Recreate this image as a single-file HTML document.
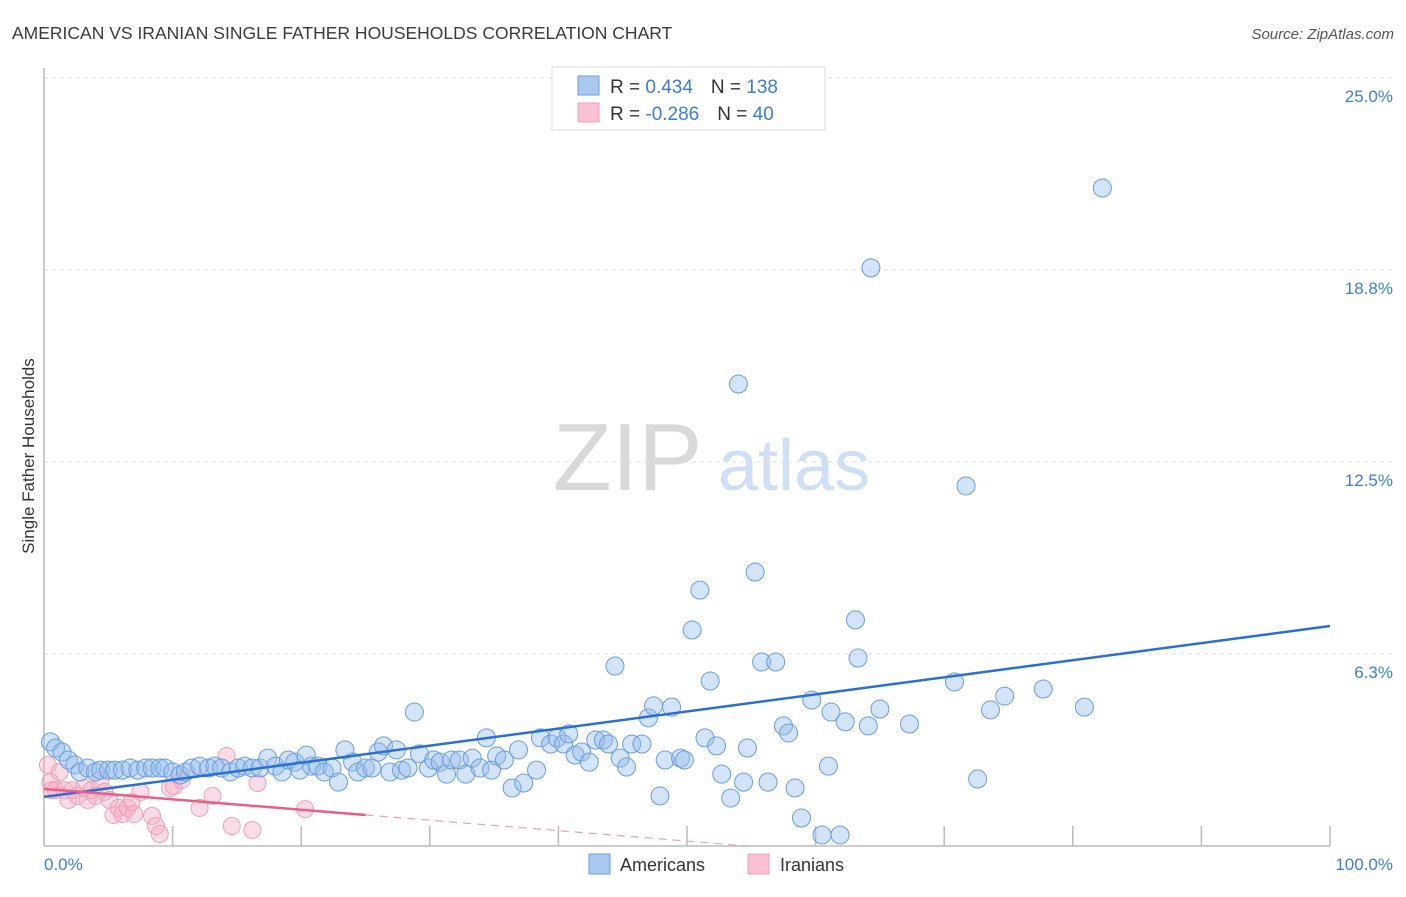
<!DOCTYPE html>
<html><head><meta charset="utf-8"><style>
body{margin:0;background:#fff;font-family:"Liberation Sans",sans-serif;}
svg text{font-family:"Liberation Sans",sans-serif;}
</style></head><body>
<svg id="chart" width="1406" height="892" viewBox="0 0 1406 892" xmlns="http://www.w3.org/2000/svg">
<text x="12" y="39" font-size="17.5" fill="#3a3a3a">AMERICAN VS IRANIAN SINGLE FATHER HOUSEHOLDS CORRELATION CHART</text>
<text x="1394" y="39" font-size="15" fill="#555" font-style="italic" text-anchor="end">Source: ZipAtlas.com</text>
<text x="553" y="490" font-size="96" fill="#d9d9d9" font-family="Liberation Serif,serif">ZIP</text>
<text x="718" y="490" font-size="72" fill="#cfe0f5">atlas</text>
<g id="grid"></g><g id="axes"></g>
<g id="pinkpts"></g><g id="bluepts"></g><g id="lines"></g>
<text transform="translate(34,456) rotate(-90)" font-size="17" fill="#333" text-anchor="middle">Single Father Households</text>
<text x="44" y="870" font-size="17" fill="#3b7dd8">0.0%</text>
<text x="1393" y="870" font-size="17" fill="#3b7dd8" text-anchor="end">100.0%</text>
<g>
<rect x="552" y="67" width="273" height="63" fill="#fff" stroke="#ddd"/>
<rect x="578" y="76" width="21" height="19" fill="#a9c9f0" stroke="#6a9ee0"/>
<rect x="578" y="103" width="21" height="19" fill="#f8c2d3" stroke="#eea0b8"/>
<text x="610" y="93" font-size="19" fill="#333">R = <tspan fill="#3b7dd8"> 0.434</tspan><tspan dx="18">N = </tspan><tspan fill="#3b7dd8">138</tspan></text>
<text x="610" y="120" font-size="19" fill="#333">R = <tspan fill="#3b7dd8">-0.286</tspan><tspan dx="18">N = </tspan><tspan fill="#3b7dd8"> 40</tspan></text>
</g>
<g>
<rect x="589" y="854" width="21" height="20" fill="#a9c9f0" stroke="#6a9ee0"/>
<text x="620" y="871" font-size="18" fill="#333">Americans</text>
<rect x="748" y="854" width="21" height="20" fill="#f8c2d3" stroke="#eea0b8"/>
<text x="780" y="871" font-size="18" fill="#333">Iranians</text>
</g>
</svg>
<script>
const yTicks=[6.25,12.5,18.75,25];
const yTickLabels=["6.3%","12.5%","18.8%","25.0%"];
const xTicks=[10,20,30,40,50,60,70,80,90,100];
const blueX=[0.5,0.9,1.4,1.9,2.4,2.8,3.4,4.0,4.4,5.0,5.5,6.1,6.7,7.3,7.9,8.4,9.0,9.4,10.0,10.6,11.0,11.5,12.1,12.8,13.3,13.8,14.5,15.1,15.6,16.2,16.8,17.4,18.0,18.5,19.0,19.5,19.9,20.4,20.8,21.3,21.8,22.4,22.9,23.4,24.0,24.4,25.0,25.5,26.0,26.4,26.9,27.4,27.8,28.3,28.8,29.2,29.9,30.3,30.8,31.3,31.7,32.3,32.8,33.3,33.9,34.4,34.8,35.2,35.8,36.4,36.9,37.3,38.3,38.6,39.4,39.9,40.4,40.8,41.3,41.8,42.4,42.9,43.5,43.9,44.4,44.8,45.3,45.7,46.5,47.0,47.4,47.9,48.3,48.8,49.5,49.8,50.4,51.0,51.4,51.8,52.3,52.7,53.4,54.0,54.4,54.7,55.3,55.8,56.3,56.9,57.5,57.9,58.4,58.9,59.7,60.5,61.0,61.2,61.9,62.3,63.1,63.3,64.1,64.3,65.0,67.3,70.8,71.7,72.6,73.6,74.7,77.7,80.9,82.3];
const blueY=[3.39,3.19,3.06,2.80,2.64,2.41,2.54,2.41,2.47,2.47,2.47,2.47,2.54,2.47,2.54,2.54,2.54,2.54,2.41,2.31,2.41,2.54,2.60,2.54,2.60,2.54,2.41,2.54,2.60,2.54,2.54,2.86,2.60,2.41,2.80,2.73,2.47,2.96,2.60,2.60,2.41,2.54,2.08,3.13,2.73,2.41,2.54,2.54,3.06,3.26,2.41,3.13,2.47,2.54,4.36,3.0,2.54,2.80,2.73,2.34,2.80,2.80,2.34,2.86,2.54,3.52,2.47,2.93,2.80,1.89,3.13,2.05,2.47,3.52,3.32,3.52,3.32,3.65,2.96,3.06,2.73,3.45,3.45,3.32,5.86,2.86,2.57,3.32,3.32,4.17,4.56,1.63,2.80,4.52,2.86,2.80,7.03,8.33,3.52,5.37,3.26,2.34,1.56,15.04,2.08,3.19,8.92,5.99,2.08,5.99,3.91,3.68,1.89,0.91,4.75,0.36,2.60,4.36,0.36,4.04,7.36,6.12,3.91,18.82,4.46,3.97,5.34,11.72,2.18,4.43,4.88,5.11,4.52,21.42];
const pinkX=[0.3,0.5,0.6,0.9,1.2,1.6,1.9,2.2,2.6,3.1,3.4,3.7,4.0,4.4,4.7,5.1,5.4,5.8,6.1,6.5,6.8,7.0,7.5,8.4,8.7,9.0,9.8,10.1,10.7,12.1,13.1,14.2,14.6,16.2,16.6,20.3];
const pinkY=[2.64,2.08,1.82,1.82,2.41,1.82,1.50,1.82,1.63,1.89,1.50,1.82,1.63,2.15,1.76,1.50,1.01,1.24,1.04,1.24,1.43,1.04,1.76,0.98,0.65,0.39,1.89,1.95,2.15,1.24,1.63,2.93,0.65,0.52,2.05,1.20];
const blueTrend=[1.6,7.16];   // y at 0% and 100%
const pinkTrend=[1.86,-0.034]; // intercept, slope per %
const NS="http://www.w3.org/2000/svg";
const X0=44,X1=1330,Y0=846,PXPER=30.72;
function sx(v){return X0+(X1-X0)*v/100;}
function sy(v){return Y0-v*PXPER;}
function mk(tag,attrs,parent){const e=document.createElementNS(NS,tag);for(const k in attrs)e.setAttribute(k,attrs[k]);parent.appendChild(e);return e;}
const grid=document.getElementById('grid'),axes=document.getElementById('axes');
yTicks.forEach((t,i)=>{
 const l=mk('line',{x1:44,x2:1392,y1:sy(t),y2:sy(t),stroke:'#ddd','stroke-dasharray':'4,4'},grid);
 
 
 const tx=mk('text',{x:1393,y:sy(t)+24,'font-size':17,fill:'#3b7dd8','text-anchor':'end'},grid);
 tx.textContent=yTickLabels[i];
 
 
});
const ax=mk('line',{x1:44,x2:1330,y1:846,y2:846,stroke:'#bbb','stroke-width':1.5},axes);


const ay=mk('line',{x1:44,x2:44,y1:68,y2:846,stroke:'#bbb','stroke-width':1.5},axes);


xTicks.forEach(t=>{
 const l=mk('line',{x1:sx(t),x2:sx(t),y1:826,y2:846,stroke:'#bbb','stroke-width':1.5},axes);
 
 
});
const pg=document.getElementById('pinkpts');
pinkX.forEach((x,i)=>{
 const c=mk('circle',{cx:sx(x),cy:sy(pinkY[i]),r:8.5,fill:'rgba(247,170,195,0.4)',stroke:'#eea0b8','stroke-width':1},pg);
 
 
});
const bg=document.getElementById('bluepts');
blueX.forEach((x,i)=>{
 const c=mk('circle',{cx:sx(x),cy:sy(blueY[i]),r:9,fill:'rgba(150,188,238,0.42)',stroke:'#6a9ee0','stroke-width':1},bg);
 
 
});
const lg=document.getElementById('lines');
const bl=mk('line',{x1:sx(0),y1:sy(blueTrend[0]),x2:sx(100),y2:sy(blueTrend[1]),stroke:'#2a6fd6','stroke-width':2.5},lg);


const pEnd=25, pZero=-pinkTrend[0]/pinkTrend[1];
const pl=mk('line',{x1:sx(0),y1:sy(pinkTrend[0]),x2:sx(pEnd),y2:sy(pinkTrend[0]+pinkTrend[1]*pEnd),stroke:'#e8608a','stroke-width':2.5},lg);


const pd=mk('line',{x1:sx(pEnd),y1:sy(pinkTrend[0]+pinkTrend[1]*pEnd),x2:sx(pZero),y2:sy(0),stroke:'#e8a0b8','stroke-width':1.2,'stroke-dasharray':'8,6'},lg);


</script>
</body></html>
